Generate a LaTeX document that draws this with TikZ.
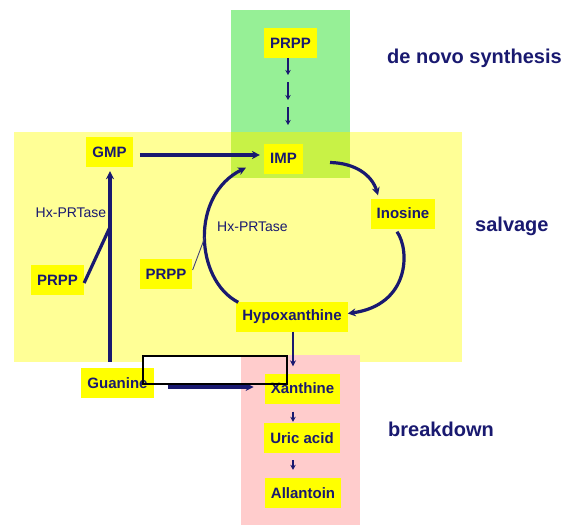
\documentclass[tikz,border=0pt]{standalone}
\usepackage{fontspec}
\setmainfont{Liberation Sans}
\usetikzlibrary{arrows.meta,calc}

\definecolor{navy}{RGB}{25,25,112}
\definecolor{bgyellow}{RGB}{255,255,150}
\definecolor{bggreen}{RGB}{150,240,150}
\definecolor{bglime}{RGB}{200,242,70}
\definecolor{bgpink}{RGB}{255,204,204}
\definecolor{boxyellow}{RGB}{255,255,0}

\tikzset{
  mol/.style={fill=boxyellow, text=navy, font=\fontsize{15}{18}\selectfont\bfseries,
              inner xsep=6pt, inner ysep=0pt, minimum height=30pt},
  region/.style={font=\fontsize{20}{24}\selectfont\bfseries, text=navy,
                 anchor=west, inner sep=0pt},
  enzyme/.style={font=\fontsize{14}{17}\selectfont, text=navy, inner sep=0pt},
  flow/.style={draw=navy, line width=3.2pt, -{Stealth[length=8pt,width=8pt]}},
  drop/.style={draw=navy, line width=2.4pt, -{Stealth[length=6pt,width=6pt]}},
  tinyflow/.style={draw=navy, line width=2pt, -{Stealth[length=5pt,width=5.5pt]}},
  joinline/.style={draw=navy, line width=3.2pt},
  thinjoin/.style={draw=navy!60!gray, line width=0.9pt},
  frame/.style={draw=black, line width=2pt}
}

\begin{document}
\begin{tikzpicture}[x=1pt,y=-1pt]
  \useasboundingbox (0,0) rectangle (574,525);
  \fill[white] (0,0) rectangle (574,525);

  % pathway areas
  \fill[bggreen] (231,10) rectangle (350,132);
  \fill[bgyellow] (14,132) rectangle (462,362);
  \fill[bglime] (231,132) rectangle (350,178);
  \fill[white] (143,356) rectangle (287,384);
  \fill[bgpink] (241,355) rectangle (360,525);

  % area labels
  \node[region] (lblDeNovo) at (387,58) {de novo synthesis};
  \node[region] (lblSalvage) at (475,226) {salvage};
  \node[region] (lblBreak) at (388,429) {breakdown};

  % metabolites
  \node[mol] (prppTop) at (290.5,43) {PRPP};
  \node[mol] (GMP) at (109.5,152) {GMP};
  \node[mol] (IMP) at (283.5,158.5) {IMP};
  \node[mol] (Ino) at (403,213.5) {Inosine};
  \node[mol] (Hyp) at (292,316.5) {Hypoxanthine};
  \node[mol] (prppL) at (57.5,280) {PRPP};
  \node[mol] (prppM) at (166,274) {PRPP};
  \node[mol] (Gua) at (117.5,383) {Guanine};
  \node[mol] (Xan) at (302.5,388.5) {Xanthine};
  \node[mol] (Uric) at (302,438) {Uric acid};
  \node[mol] (Alla) at (303,493) {Allantoin};

  % enzymes
  \node[enzyme] (enzL) at (71,213) {Hx-PRTase};
  \node[enzyme] (enzM) at (252.5,227) {Hx-PRTase};

  % de novo chain
  \coordinate (s1) at (288,58);  \coordinate (e1) at (288,75);
  \coordinate (s2) at (288,82);  \coordinate (e2) at (288,100);
  \coordinate (s3) at (288,107); \coordinate (e3) at (288,125);
  \draw[tinyflow] (s1) -- (e1);
  \draw[tinyflow] (s2) -- (e2);
  \draw[tinyflow] (s3) -- (e3);

  % salvage
  \draw[flow] ($(GMP.east)+(7,3)$) -- ($(GMP.east -| IMP.west)+(-4,3)$);
  \draw[flow] ($(GMP.south |- Gua.north)+(0.5,-6)$) -- ($(GMP.south)+(0.5,4)$);
  \coordinate (jGMP) at (110,227);
  \draw[joinline] ($(prppL.east)+(0,3)$) -- (jGMP);

  \draw[flow] ($(Hyp.north west)+(2,1)$) .. controls (195,280) and (190,195) .. ($(IMP.south west)+(-18,-6)$);
  \coordinate (jIMP) at (205,237);
  \draw[thinjoin] ($(prppM.east)+(0,-4)$) -- (jIMP);

  \draw[flow] ($(IMP.east)+(27,4)$) .. controls (355,163) and (372,175) .. ($(Ino.north)+(-25,-3)$);
  \draw[flow] ($(Ino.south)+(-6,3)$) .. controls (410,250) and (410,305) .. ($(Hyp.east)+(0,-3)$);

  % breakdown
  \draw[drop] ($(Hyp.south)+(1,0)$) -- ($(Hyp.south |- Xan.north)+(1,-7)$);
  \draw[flow, line width=3.6pt] ($(Gua.east)+(14,4)$) -- ($(Gua.east -| Xan.west)+(-11,4)$);
  \draw[tinyflow] ($(Xan.south -| Hyp.south)+(1,8)$) -- ($(Uric.north -| Hyp.south)+(1,-1)$);
  \draw[tinyflow] ($(Uric.south -| Hyp.south)+(1,7)$) -- ($(Alla.north -| Hyp.south)+(1,-8)$);

  % outlined box
  \draw[frame] (143,356) rectangle (287,384);
\end{tikzpicture}
\end{document}
